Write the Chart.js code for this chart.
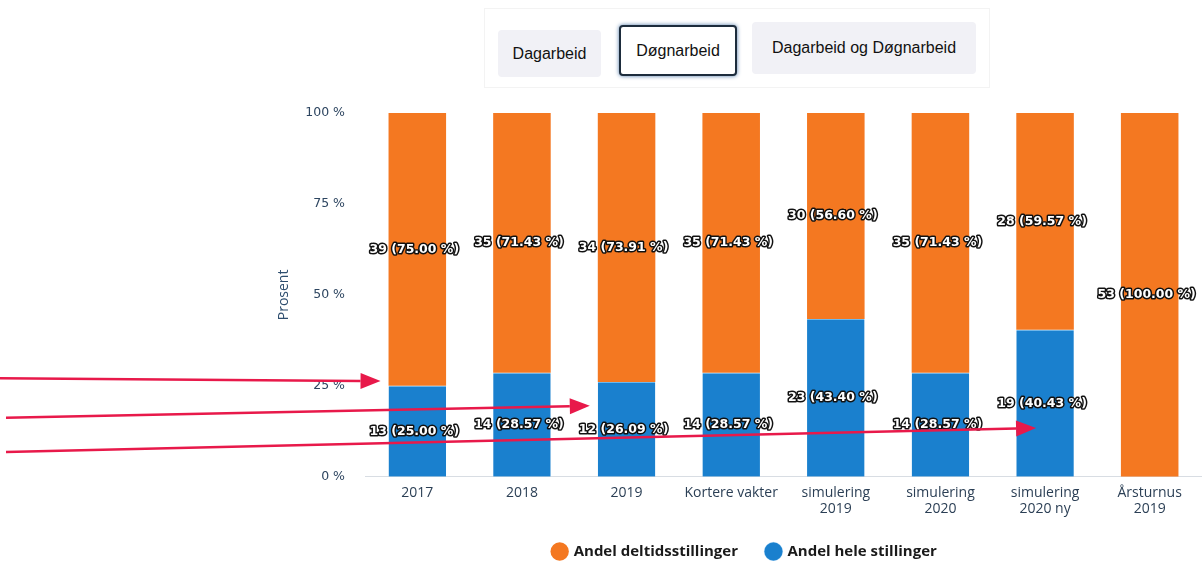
<!DOCTYPE html>
<html>
<head>
<meta charset="utf-8">
<script src="https://cdn.jsdelivr.net/npm/chart.js@4.4.1/dist/chart.umd.min.js"></script>
<style>
  html, body { margin: 0; padding: 0; background: #fff; width: 1202px; height: 561px; overflow: hidden; }
  #wrap { position: absolute; left: 0; top: 0; width: 1202px; height: 561px; }
  #box { position: absolute; left: 484px; top: 8px; width: 506px; height: 80px; border: 1px solid #f3f3f3; box-sizing: border-box; }
  .btn { position: absolute; font-family: "Liberation Sans", Arial, sans-serif; font-size: 16px; color: #111;
         display: flex; align-items: center; justify-content: center; border-radius: 4px; box-sizing: border-box; }
  #b1 { left: 498px; top: 30px; width: 103px; height: 47px; background: #f1f1f6; }
  #b2 { left: 619px; top: 25px; width: 118px; height: 51px; background: #fff; border: 2px solid #1d2c3c; box-shadow: 0 0 4px #4f78a8; }
  #b3 { left: 752px; top: 22px; width: 224px; height: 52px; background: #f1f1f6; }
  canvas { position: absolute; left: 0; top: 0; }
</style>
</head>
<body>
<div id="wrap">
  <div id="box"></div>
  <div class="btn" id="b1">Dagarbeid</div>
  <div class="btn" id="b2">Døgnarbeid</div>
  <div class="btn" id="b3">Dagarbeid og Døgnarbeid</div>
  <canvas id="c" width="1202" height="561"></canvas>
</div>
<script>
const categories = [["2017"], ["2018"], ["2019"], ["Kortere vakter"], ["simulering", "2019"], ["simulering", "2020"], ["simulering", "2020 ny"], ["Årsturnus", "2019"]];
const heleCount = [13, 14, 12, 14, 23, 14, 19, 0];
const deltidCount = [39, 35, 34, 35, 30, 35, 28, 53];
const helePct = [25.00, 28.57, 26.09, 28.57, 43.40, 28.57, 40.43, 0];
const deltidPct = [75.00, 71.43, 73.91, 71.43, 56.60, 71.43, 59.57, 100.00];
const yTicks = [0, 25, 50, 75, 100];
// annotation arrows drawn on the scan: [start value %, target category, target value %]
const arrowStartPct = [27.1, 16.2, 6.8];
const arrowTargetCat = [0, 2, 6];
const arrowTargetPct = [26.3, 19.5, 13.4];

const ORANGE = '#F47821';
const BLUE = '#1A80CE';
const FONT = '"Open Sans", sans-serif';

const legendFitPlugin = {
  id: 'legendFit',
  beforeInit(chart) {
    const lg = chart.legend;
    if (!lg) return;
    const f = lg.fit;
    lg.fit = function () { f.call(this); this.height -= 8; };
    const d = lg.draw;
    lg.draw = function () { this.left += 12; d.call(this); this.left -= 12; };
  }
};

const labelPlugin = {
  id: 'segLabels',
  afterDatasetsDraw(chart) {
    const ctx = chart.ctx;
    const sets = [[heleCount, helePct], [deltidCount, deltidPct]];
    ctx.save();
    ctx.font = 'bold 12.5px "DejaVu Sans", sans-serif';
    ctx.textAlign = 'center';
    ctx.textBaseline = 'middle';
    ctx.lineJoin = 'round';
    chart.data.datasets.forEach((ds, di) => {
      const meta = chart.getDatasetMeta(di);
      meta.data.forEach((bar, i) => {
        const cnt = sets[di][0][i];
        const pct = sets[di][1][i];
        if (!cnt) return;
        const txt = cnt + ' (' + pct.toFixed(2) + ' %)';
        const y = (bar.y + bar.base) / 2;
        ctx.strokeStyle = '#111';
        ctx.lineWidth = 3;
        ctx.strokeText(txt, bar.x - 3, y);
        ctx.fillStyle = '#fff';
        ctx.fillText(txt, bar.x - 3, y);
      });
    });
    ctx.restore();
  }
};

const arrowPlugin = {
  id: 'arrows',
  afterDraw(chart) {
    const ctx = chart.ctx;
    const ys = chart.scales.y;
    const meta = chart.getDatasetMeta(0);
    ctx.save();
    ctx.strokeStyle = '#E8194A';
    ctx.fillStyle = '#E8194A';
    ctx.lineWidth = 2.5;
    arrowStartPct.forEach((sp, k) => {
      const bar = meta.data[arrowTargetCat[k]];
      const half = bar.width / 2;
      const x1 = k === 2 ? bar.x - 9 : bar.x - half - 8;
      const y1 = ys.getPixelForValue(arrowTargetPct[k]);
      const x0 = k === 0 ? 0 : 6;
      const y0 = ys.getPixelForValue(sp);
      const ang = Math.atan2(y1 - y0, x1 - x0);
      const hl = 20, hw = 8;
      const bx = x1 - hl * Math.cos(ang), by = y1 - hl * Math.sin(ang);
      ctx.beginPath();
      ctx.moveTo(x0, y0);
      ctx.lineTo(bx, by);
      ctx.stroke();
      ctx.beginPath();
      ctx.moveTo(x1, y1);
      ctx.lineTo(bx + hw * Math.sin(ang), by - hw * Math.cos(ang));
      ctx.lineTo(bx - hw * Math.sin(ang), by + hw * Math.cos(ang));
      ctx.closePath();
      ctx.fill();
    });
    ctx.restore();
  }
};

new Chart(document.getElementById('c'), {
  type: 'bar',
  data: {
    labels: categories,
    datasets: [
      { label: 'Andel hele stillinger', data: helePct, backgroundColor: BLUE, borderColor: '#6ab8ee', borderWidth: { top: 1, left: 0, right: 0, bottom: 0 }, borderSkipped: false },
      { label: 'Andel deltidsstillinger', data: deltidPct, backgroundColor: ORANGE, borderWidth: 0 }
    ]
  },
  options: {
    responsive: false,
    animation: false,
    devicePixelRatio: 1,
    layout: { padding: { left: 276, right: 0, top: 113, bottom: 0 } },
    datasets: { bar: { categoryPercentage: 1, barPercentage: 0.55 } },
    plugins: {
      legend: {
        position: 'bottom',
        reverse: true,
        labels: {
          usePointStyle: true, pointStyle: 'circle', boxWidth: 13, boxHeight: 13, padding: 19,
          color: '#1a1a1a', font: { family: FONT, size: 15, weight: 'bold' },
          generateLabels(chart) {
            const items = Chart.defaults.plugins.legend.labels.generateLabels(chart);
            items.forEach(it => { if (it.datasetIndex === 1) it.text += '\u2002\u2009'; });
            return items;
          }
        }
      },
      tooltip: { enabled: false }
    },
    scales: {
      x: {
        stacked: true,
        grid: { display: false, drawTicks: false },
        border: { color: '#d8dde3' },
        ticks: { color: '#2b3f55', font: { family: FONT, size: 14, lineHeight: 1.15 }, padding: 8, maxRotation: 0, autoSkip: false }
      },
      y: {
        stacked: true,
        min: 0, max: 100,
        afterBuildTicks(axis) { axis.ticks = yTicks.map(v => ({ value: v })); },
        afterFit(axis) { axis.width = 89; },
        grid: { display: false, drawTicks: false },
        border: { display: false },
        ticks: { color: '#2d4560', padding: 20, font: { family: '"DejaVu Sans", sans-serif', size: 12.5 }, callback: v => v + ' %' },
        title: { display: true, text: 'Prosent', color: '#2d4d6e', font: { family: FONT, size: 14 }, padding: { top: 0, bottom: 12 } }
      }
    }
  },
  plugins: [legendFitPlugin, labelPlugin, arrowPlugin]
});
</script>
</body>
</html>
